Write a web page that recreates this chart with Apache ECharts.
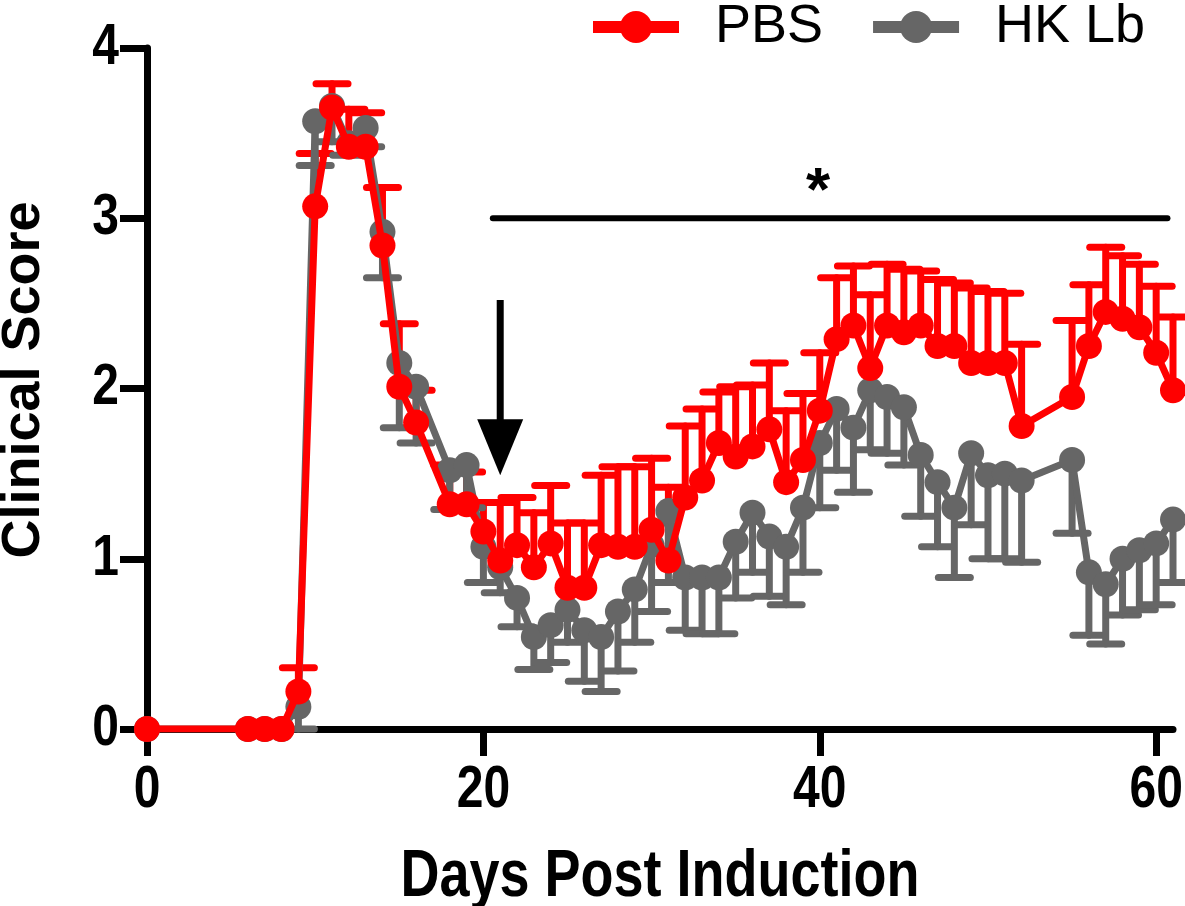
<!DOCTYPE html>
<html>
<head>
<meta charset="utf-8">
<script src="https://cdn.jsdelivr.net/npm/echarts@6/dist/echarts.min.js"></script>
<style>
html,body{margin:0;padding:0;background:#fff;}
#chart{width:1185px;height:906px;}
</style>
</head>
<body>
<div id="chart"></div>
<script>
// ---- data ----
const days = [0,6,7,8,9,10,11,12,13,14,15,16,18,19,20,21,22,23,24,25,26,27,28,29,30,31,32,33,34,35,36,37,38,39,40,41,42,43,44,45,46,47,48,49,50,51,52,55,56,57,58,59,60,61];
const pbsMean = [0,0,0,0,0.22,3.07,3.65,3.42,3.42,2.84,2.01,1.80,1.32,1.32,1.16,0.99,1.08,0.95,1.09,0.83,0.83,1.08,1.07,1.07,1.17,0.99,1.36,1.46,1.68,1.60,1.66,1.76,1.45,1.58,1.87,2.29,2.37,2.12,2.37,2.33,2.37,2.25,2.25,2.15,2.15,2.15,1.78,1.95,2.25,2.45,2.41,2.36,2.21,1.99];
const pbsUpper = [0,0,0,0,0.36,3.38,3.79,3.64,3.62,3.18,2.38,1.99,1.55,1.51,1.33,1.33,1.36,1.27,1.43,1.21,1.21,1.49,1.54,1.54,1.59,1.42,1.78,1.88,1.98,2.01,2.02,2.15,1.87,1.97,2.21,2.65,2.72,2.55,2.73,2.70,2.69,2.64,2.62,2.59,2.57,2.56,2.26,2.40,2.61,2.83,2.78,2.73,2.60,2.42];
const hkMean = [0,0,0,0,0.13,3.57,3.66,3.44,3.53,2.92,2.15,2.01,1.52,1.55,1.07,0.95,0.77,0.54,0.61,0.70,0.58,0.54,0.69,0.82,1.08,1.28,0.89,0.89,0.89,1.10,1.27,1.13,1.07,1.30,1.68,1.88,1.77,1.99,1.95,1.89,1.61,1.45,1.30,1.62,1.49,1.50,1.46,1.58,0.92,0.85,1.00,1.05,1.09,1.23];
const hkLower = [0,0,0,0,0,3.31,3.45,3.37,3.42,2.65,1.77,1.68,1.29,1.30,0.86,0.80,0.60,0.35,0.39,0.51,0.28,0.22,0.34,0.51,0.69,0.86,0.58,0.56,0.56,0.77,0.92,0.78,0.73,0.92,1.30,1.52,1.39,1.64,1.62,1.55,1.25,1.07,0.89,1.20,1.00,1.00,0.98,1.15,0.55,0.50,0.67,0.70,0.73,0.86];
const seriesNames = ['PBS', 'HK Lb'];
const xTicks = [0, 20, 40, 60];
const yTicks = [0, 1, 2, 3, 4];
const sigBar = [20.56, 60.67, 3.0];      // x start, x end, y
const arrowMark = [21, 2.52, 1.49];      // day, top, tip
const starMark = [39.9, 3.15, '*'];
const xTitle = 'Days Post Induction';
const yTitle = 'Clinical Score';

// ---- styles ----
const RED = '#ff0000';
const GRAY = '#666666';
const FONT = "'Liberation Sans', Arial, sans-serif";
const TICK_FONT = 'bold 48px ' + FONT;
const TITLE_FONT = 'bold 54px ' + FONT;

const pbsData = days.map((d, i) => [d, pbsMean[i]]);
const hkData = days.map((d, i) => [d, hkMean[i]]);
const pbsErr = days.map((d, i) => [d, pbsMean[i], pbsUpper[i]]);
const hkErr = days.map((d, i) => [d, hkMean[i], hkLower[i]]);

function errRender(color) {
  return function (params, api) {
    const x = api.value(0), m = api.value(1), e = api.value(2);
    if (Math.abs(e - m) < 1e-9) return null;
    const p1 = api.coord([x, m]);
    const p2 = api.coord([x, e]);
    const half = 16;
    const style = { stroke: color, lineWidth: 7, lineCap: 'round' };
    return {
      type: 'group',
      children: [
        { type: 'line', shape: { x1: p1[0], y1: p1[1], x2: p2[0], y2: p2[1] }, style: style },
        { type: 'line', shape: { x1: p2[0] - half, y1: p2[1], x2: p2[0] + half, y2: p2[1] }, style: style }
      ]
    };
  };
}

const chart = echarts.init(document.getElementById('chart'), null, { renderer: 'canvas' });
chart.setOption({
  animation: false,
  backgroundColor: '#ffffff',
  grid: { left: 147, right: 12, top: 48, bottom: 177, containLabel: false, outerBoundsMode: 'none' },
  legend: {
    data: seriesNames,
    left: 587,
    top: 0,
    padding: 0,
    itemWidth: 86,
    itemHeight: 40,
    itemGap: 44,
    lineStyle: { width: 12 },
    textStyle: { fontFamily: FONT, fontSize: 54, color: '#000', padding: [0, 0, 0, 31] }
  },
  graphic: [
    { type: 'text', x: 660, y: 878, scaleY: 1.22,
      style: { text: xTitle, font: TITLE_FONT, fill: '#000', align: 'center', verticalAlign: 'middle' } },
    { type: 'text', x: 24, y: 380, rotation: Math.PI / 2,
      style: { text: yTitle, font: TITLE_FONT, fill: '#000', align: 'center', verticalAlign: 'middle' } }
  ],
  xAxis: {
    type: 'value',
    min: 0, max: 61, interval: 20,
    axisLine: { lineStyle: { color: '#000', width: 7 } },
    axisTick: { length: 27, lineStyle: { color: '#000', width: 7 }, customValues: xTicks },
    axisLabel: { show: false },
    splitLine: { show: false }
  },
  yAxis: {
    type: 'value',
    min: 0, max: 4, interval: 1,
    axisLine: { show: true, lineStyle: { color: '#000', width: 7 } },
    axisTick: { show: true, length: 27, lineStyle: { color: '#000', width: 7 }, customValues: yTicks },
    axisLabel: { show: false },
    splitLine: { show: false }
  },
  series: [
    { type: 'custom', renderItem: errRender(RED), data: pbsErr, z: 2, silent: true },
    { type: 'custom', renderItem: errRender(GRAY), data: hkErr, z: 3, silent: true },
    {
      name: seriesNames[1], type: 'line', data: hkData, z: 4,
      symbol: 'circle', symbolSize: 26,
      lineStyle: { color: GRAY, width: 7 },
      itemStyle: { color: GRAY }
    },
    {
      name: seriesNames[0], type: 'line', data: pbsData, z: 5,
      symbol: 'circle', symbolSize: 26,
      lineStyle: { color: RED, width: 7 },
      itemStyle: { color: RED }
    },
    {
      // x tick labels
      type: 'custom', z: 6, silent: true, clip: false,
      data: xTicks.map(v => [v, 0]),
      renderItem: function (params, api) {
        const v = api.value(0);
        const p = api.coord([v, 0]);
        return { type: 'text', x: p[0], y: p[1] + 31, scaleY: 1.25,
                 style: { text: String(v), font: TICK_FONT, fill: '#000', align: 'center', verticalAlign: 'top' } };
      }
    },
    {
      // y tick labels
      type: 'custom', z: 6, silent: true, clip: false,
      data: yTicks.map(v => [0, v]),
      renderItem: function (params, api) {
        const v = api.value(1);
        const p = api.coord([0, v]);
        return { type: 'text', x: p[0] - 28, y: p[1], scaleY: 1.2,
                 style: { text: String(v), font: TICK_FONT, fill: '#000', align: 'right', verticalAlign: 'middle' } };
      }
    },
    {
      type: 'custom', z: 6, silent: true,
      data: [[sigBar[0], sigBar[2], sigBar[1]]],
      renderItem: function (params, api) {
        const a = api.coord([api.value(0), api.value(1)]);
        const b = api.coord([api.value(2), api.value(1)]);
        return { type: 'line', shape: { x1: a[0], y1: a[1], x2: b[0], y2: b[1] },
                 style: { stroke: '#000', lineWidth: 6, lineCap: 'round' } };
      }
    },
    {
      type: 'custom', z: 6, silent: true,
      data: [arrowMark],
      renderItem: function (params, api) {
        const top = api.coord([api.value(0), api.value(1)]);
        const tip = api.coord([api.value(0), api.value(2)]);
        const headH = 56, headW = 23;
        return {
          type: 'group',
          children: [
            { type: 'line', shape: { x1: top[0], y1: top[1], x2: tip[0], y2: tip[1] - headH + 4 },
              style: { stroke: '#000', lineWidth: 7 } },
            { type: 'polygon', shape: { points: [[tip[0] - headW, tip[1] - headH], [tip[0] + headW, tip[1] - headH], [tip[0], tip[1]]] },
              style: { fill: '#000' } }
          ]
        };
      }
    },
    {
      type: 'custom', z: 6, silent: true,
      data: [starMark],
      renderItem: function (params, api) {
        const p = api.coord([api.value(0), api.value(1)]);
        return { type: 'text', x: p[0], y: p[1],
                 style: { text: starMark[2], fill: '#000', font: 'bold 62px ' + FONT, align: 'center', verticalAlign: 'middle' } };
      }
    }
  ]
});
</script>
</body>
</html>
